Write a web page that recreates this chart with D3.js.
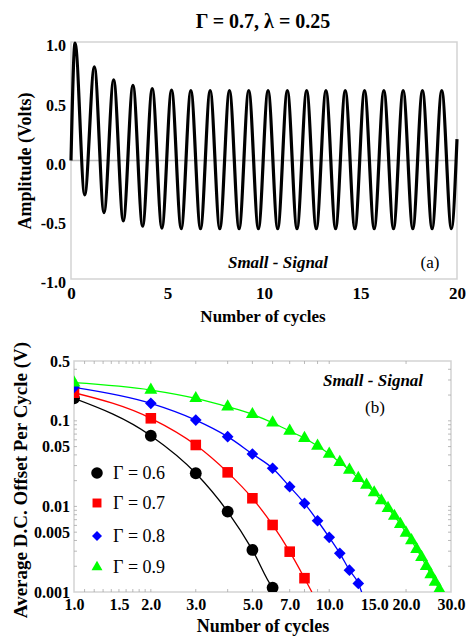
<!DOCTYPE html>
<html>
<head>
<meta charset="utf-8">
<script src="https://cdn.jsdelivr.net/npm/d3@7"></script>
<style>
  body { margin: 0; background: #fff; }
  text { font-family: "Liberation Serif", "Times New Roman", serif; fill: #000; }
</style>
</head>
<body>
<div id="chart"></div>
<script>
const width = 470, height = 637;

// (a) waveform, extrema
const startPoint = [0, 0.0];
const endPoint = [20, 0.18];
const peakTimes = [0.21, 1.21, 2.21, 3.21, 4.21, 5.21, 6.21, 7.21, 8.21, 9.21,
                   10.21, 11.21, 12.21, 13.21, 14.21, 15.21, 16.21, 17.21, 18.21, 19.21];
const peakValues = [0.99, 0.79, 0.68, 0.635, 0.607, 0.595, 0.59, 0.59, 0.59, 0.59,
                    0.59, 0.59, 0.59, 0.59, 0.59, 0.59, 0.59, 0.59, 0.59, 0.59];
const troughTimes = [0.71, 1.71, 2.71, 3.71, 4.71, 5.71, 6.71, 7.71, 8.71, 9.71,
                     10.71, 11.71, 12.71, 13.71, 14.71, 15.71, 16.71, 17.71, 18.71, 19.71];
const troughValues = [-0.29, -0.44, -0.51, -0.555, -0.57, -0.575, -0.575, -0.575, -0.575, -0.575,
                      -0.575, -0.575, -0.575, -0.575, -0.575, -0.575, -0.575, -0.575, -0.575, -0.575];
const ampTicks = [-1, -0.5, 0, 0.5, 1];
const cycleTicks = [0, 5, 10, 15, 20];

// (b) average DC offset per cycle
const gammaLabels = ["\u0393 = 0.6", "\u0393 = 0.7", "\u0393 = 0.8", "\u0393 = 0.9"];
const cycles06 = [1, 2, 3, 4, 5, 6];
const offset06 = [0.183, 0.067, 0.0244, 0.0087, 0.0031, 0.00112];
const cycles07 = [1, 2, 3, 4, 5, 6, 7, 8];
const offset07 = [0.213, 0.107, 0.0522, 0.025, 0.01245, 0.00607, 0.00296, 0.00145];
const cycles08 = [1, 2, 3, 4, 5, 6, 7, 8, 9, 10, 11, 12, 13];
const offset08 = [0.246, 0.160, 0.102, 0.0653, 0.041, 0.0279, 0.017, 0.01087, 0.0068,
                  0.00435, 0.00283, 0.0018, 0.00126];
const cycles09 = [1, 2, 3, 4, 5, 6, 7, 8, 9, 10, 11, 12, 13, 14, 15, 16, 17, 18, 19, 20,
                  21, 22, 23, 24, 25, 26, 27];
const offset09 = [0.279, 0.229, 0.183, 0.146, 0.119, 0.095, 0.076, 0.0625, 0.0508, 0.041,
                  0.0328, 0.0267, 0.0213, 0.0178, 0.0145, 0.0117, 0.0095, 0.0077, 0.0062, 0.0049,
                  0.0040, 0.00316, 0.00255, 0.0020, 0.0016, 0.00131, 0.00107];
// where each fitted line leaves the bottom of the plot (offset = 0.001)
const lineEnds = [6.2, 8.55, 13.4, 28];
const logXTicks = [1, 1.5, 2, 3, 5, 7, 10, 15, 20, 30];
const logYTicks = [0.001, 0.005, 0.01, 0.05, 0.1, 0.5];
const logYLabels = ["0.001", "0.005", "0.01", "0.05", "0.1", "0.5"];
const minorX = [1.1, 1.2, 1.3, 1.4, 1.5, 1.6, 1.7, 1.8, 1.9, 2, 3, 4, 5, 6, 7, 8, 9, 10, 20];
const minorY = [0.002, 0.003, 0.004, 0.005, 0.006, 0.007, 0.008, 0.009, 0.01,
                0.02, 0.03, 0.04, 0.05, 0.06, 0.07, 0.08, 0.09, 0.1, 0.2, 0.3, 0.4];

const colors = ["#000000", "#ff0000", "#0000ff", "#00ff00"];

const svg = d3.select("#chart").append("svg")
    .attr("width", width)
    .attr("height", height);

// plain hyphen instead of the unicode minus d3 uses
const fmt1 = d => d3.format(".1f")(d).replace("\u2212", "-");

// ---------- (a) ----------
const a = {left: 71, right: 457, top: 42, bottom: 279};

const xA = d3.scaleLinear().domain([0, 20]).range([a.left, a.right]);
const yA = d3.scaleLinear().domain([-1, 1]).range([a.bottom, a.top]);

svg.append("text")
    .attr("x", 263).attr("y", 28)
    .attr("text-anchor", "middle")
    .attr("font-weight", "bold")
    .attr("font-size", 20)
    .text("\u0393 = 0.7, \u03bb = 0.25");

svg.append("rect")
    .attr("x", a.left).attr("y", a.top)
    .attr("width", a.right - a.left).attr("height", a.bottom - a.top)
    .attr("fill", "none").attr("stroke", "#d3d3d3").attr("stroke-width", 1.5);

svg.append("line")
    .attr("x1", a.left).attr("x2", a.right)
    .attr("y1", yA(0)).attr("y2", yA(0))
    .attr("stroke", "#bdbdbd").attr("stroke-width", 1.5);

const wave = [startPoint];
peakTimes.forEach((t, i) => {
    wave.push([t, peakValues[i]]);
    wave.push([troughTimes[i], troughValues[i]]);
});
wave.push(endPoint);

svg.append("path")
    .datum(wave)
    .attr("fill", "none")
    .attr("stroke", "#000")
    .attr("stroke-width", 3.2)
    .attr("d", d3.line().x(d => xA(d[0])).y(d => yA(d[1])).curve(d3.curveMonotoneX));

svg.append("g")
    .attr("transform", `translate(${a.left},0)`)
    .call(d3.axisLeft(yA).tickValues(ampTicks).tickSize(0).tickPadding(5).tickFormat(fmt1))
    .call(g => g.select(".domain").remove())
    .call(g => g.selectAll("text")
        .attr("font-family", "Liberation Serif").attr("font-weight", "bold")
        .attr("font-size", 16).attr("dy", "0.55em"));

svg.append("g")
    .attr("transform", `translate(0,${a.bottom})`)
    .call(d3.axisBottom(xA).tickValues(cycleTicks).tickSize(0).tickPadding(8))
    .call(g => g.select(".domain").remove())
    .call(g => g.selectAll("text")
        .attr("font-family", "Liberation Serif").attr("font-weight", "bold")
        .attr("font-size", 17));

svg.append("text")
    .attr("transform", "translate(25,161) rotate(-90)")
    .attr("text-anchor", "middle").attr("dominant-baseline", "central")
    .attr("font-weight", "bold").attr("font-size", 18)
    .text("Amplitude (Volts)");

svg.append("text")
    .attr("x", 263).attr("y", 322)
    .attr("text-anchor", "middle")
    .attr("font-weight", "bold").attr("font-size", 17)
    .text("Number of cycles");

svg.append("text")
    .attr("x", 278).attr("y", 268)
    .attr("text-anchor", "middle")
    .attr("font-weight", "bold").attr("font-style", "italic").attr("font-size", 17)
    .text("Small - Signal");

svg.append("text")
    .attr("x", 430).attr("y", 268)
    .attr("text-anchor", "middle").attr("font-size", 17)
    .text("(a)");

// ---------- (b) ----------
const b = {left: 74, right: 451, top: 361, bottom: 592};

const xB = d3.scaleLog().domain([1, 30]).range([b.left, b.right]);
const yB = d3.scaleLog().domain([0.001, 0.5]).range([b.bottom, b.top]);

svg.append("rect")
    .attr("x", b.left).attr("y", b.top)
    .attr("width", b.right - b.left).attr("height", b.bottom - b.top)
    .attr("fill", "none").attr("stroke", "#d3d3d3").attr("stroke-width", 1.5);

// minor ticks on all four sides, pointing inward
const ticksB = svg.append("g").attr("stroke", "#a8a8a8").attr("stroke-width", 0.8);
ticksB.selectAll(".tb").data(minorX).join("line")
    .attr("x1", d => xB(d)).attr("x2", d => xB(d))
    .attr("y1", b.bottom).attr("y2", b.bottom - 3);
ticksB.selectAll(".tt").data(minorX).join("line")
    .attr("x1", d => xB(d)).attr("x2", d => xB(d))
    .attr("y1", b.top).attr("y2", b.top + 3);
ticksB.selectAll(".tl").data(minorY).join("line")
    .attr("y1", d => yB(d)).attr("y2", d => yB(d))
    .attr("x1", b.left).attr("x2", b.left + 3);
ticksB.selectAll(".tr").data(minorY).join("line")
    .attr("y1", d => yB(d)).attr("y2", d => yB(d))
    .attr("x1", b.right).attr("x2", b.right - 3);

svg.append("clipPath").attr("id", "clipB")
    .append("rect")
    .attr("x", b.left).attr("y", b.top)
    .attr("width", b.right - b.left).attr("height", b.bottom - b.top);

const plotB = svg.append("g").attr("clip-path", "url(#clipB)");

const seriesB = [
    {cycles: cycles06, offset: offset06},
    {cycles: cycles07, offset: offset07},
    {cycles: cycles08, offset: offset08},
    {cycles: cycles09, offset: offset09}
];

const symbols = [
    d3.symbol().type(d3.symbolCircle).size(110),
    d3.symbol().type(d3.symbolSquare).size(112),
    d3.symbol().type(d3.symbolSquare).size(68),
    d3.symbol().type(d3.symbolTriangle).size(72)
];
const rotations = [0, 0, 45, 0];

const lineB = d3.line()
    .x(d => xB(d[0])).y(d => yB(d[1]))
    .curve(d3.curveMonotoneX);

seriesB.forEach((s, i) => {
    const pts = s.cycles.map((c, j) => [c, s.offset[j]]);
    pts.push([lineEnds[i], 0.001]);
    plotB.append("path")
        .datum(pts)
        .attr("fill", "none")
        .attr("stroke", colors[i])
        .attr("stroke-width", 1.3)
        .attr("d", lineB);
});

seriesB.forEach((s, i) => {
    plotB.append("g")
        .selectAll("path")
        .data(s.cycles.map((c, j) => [c, s.offset[j]]))
        .join("path")
        .attr("transform", d => `translate(${xB(d[0])},${yB(d[1])}) rotate(${rotations[i]})`)
        .attr("d", symbols[i])
        .attr("fill", colors[i]);
});

svg.append("g")
    .attr("transform", `translate(${b.left},0)`)
    .call(d3.axisLeft(yB).tickValues(logYTicks).tickSize(0).tickPadding(4)
        .tickFormat((d, i) => logYLabels[i]))
    .call(g => g.select(".domain").remove())
    .call(g => g.selectAll("text")
        .attr("font-family", "Liberation Serif").attr("font-weight", "bold")
        .attr("font-size", 16));

svg.append("g")
    .attr("transform", `translate(0,${b.bottom})`)
    .call(d3.axisBottom(xB).tickValues(logXTicks).tickSize(0).tickPadding(7)
        .tickFormat(d3.format(".1f")))
    .call(g => g.select(".domain").remove())
    .call(g => g.selectAll("text")
        .attr("font-family", "Liberation Serif").attr("font-weight", "bold")
        .attr("font-size", 16));

svg.append("text")
    .attr("transform", "translate(20,480) rotate(-90)")
    .attr("text-anchor", "middle").attr("dominant-baseline", "central")
    .attr("font-weight", "bold").attr("font-size", 19)
    .text("Average D.C. Offset Per Cycle (V)");

svg.append("text")
    .attr("x", 263).attr("y", 632)
    .attr("text-anchor", "middle")
    .attr("font-weight", "bold").attr("font-size", 18)
    .text("Number of cycles");

svg.append("text")
    .attr("x", 373).attr("y", 386)
    .attr("text-anchor", "middle")
    .attr("font-weight", "bold").attr("font-style", "italic").attr("font-size", 17)
    .text("Small - Signal");

svg.append("text")
    .attr("x", 375).attr("y", 413)
    .attr("text-anchor", "middle").attr("font-size", 17)
    .text("(b)");

// legend
const legendY = [473, 503, 536, 567];
const legendSymbols = [
    d3.symbol().type(d3.symbolCircle).size(105),
    d3.symbol().type(d3.symbolSquare).size(80),
    d3.symbol().type(d3.symbolSquare).size(50),
    d3.symbol().type(d3.symbolTriangle).size(52)
];
const legend = svg.append("g");
gammaLabels.forEach((label, i) => {
    legend.append("path")
        .attr("transform", `translate(97,${legendY[i]}) rotate(${rotations[i]})`)
        .attr("d", legendSymbols[i])
        .attr("fill", colors[i]);
    legend.append("text")
        .attr("x", 113).attr("y", legendY[i] + 6)
        .attr("font-size", 18)
        .text(label);
});
</script>
</body>
</html>
